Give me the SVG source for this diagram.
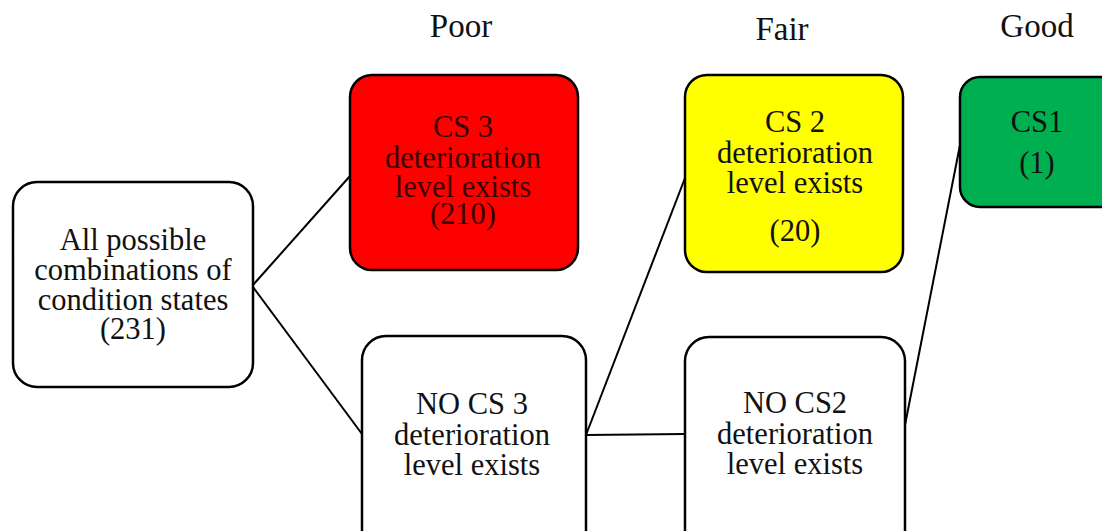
<svg xmlns="http://www.w3.org/2000/svg" width="1102" height="531" viewBox="0 0 1102 531">
<style>
.box{stroke:#000;stroke-width:2.5}
.t{font-family:"Liberation Serif","Times New Roman",serif;font-size:30.5px;text-anchor:middle;fill:#111}
.r{fill:#3a0000}
.h{font-family:"Liberation Serif","Times New Roman",serif;font-size:33px;text-anchor:middle;fill:#111}
.c{stroke:#000;stroke-width:2;fill:none}
</style>
<rect width="1102" height="531" fill="#fff"/>
<g id="headers">
<text class="h" x="461" y="37">Poor</text>
<text class="h" x="782" y="40">Fair</text>
<text class="h" x="1037" y="37">Good</text>
</g>
<g id="connectors">
<line class="c" x1="253" y1="285" x2="350" y2="176"/>
<line class="c" x1="253" y1="287" x2="362" y2="434"/>
<line class="c" x1="586" y1="435" x2="685" y2="178"/>
<line class="c" x1="586" y1="435" x2="685" y2="434"/>
<line class="c" x1="905" y1="425" x2="960" y2="145"/>
</g>
<g id="all">
<rect class="box" x="13" y="182" width="240" height="205" rx="24" fill="#fff"/>
<text class="t" x="133" y="250">All possible</text>
<text class="t" x="133" y="280">combinations of</text>
<text class="t" x="133" y="310">condition states</text>
<text class="t" x="133" y="339">(231)</text>
</g>
<g id="cs3">
<rect class="box" x="350" y="75" width="228" height="195" rx="22" fill="#ff0000"/>
<text class="t r" x="463" y="137">CS 3</text>
<text class="t r" x="463" y="168">deterioration</text>
<text class="t r" x="463" y="197">level exists</text>
<text class="t r" x="463" y="224">(210)</text>
</g>
<g id="cs2">
<rect class="box" x="685" y="75" width="218" height="197" rx="22" fill="#ffff00"/>
<text class="t" x="795" y="132">CS 2</text>
<text class="t" x="795" y="163">deterioration</text>
<text class="t" x="795" y="193">level exists</text>
<text class="t" x="795" y="241">(20)</text>
</g>
<g id="cs1">
<rect class="box" x="960" y="77" width="170" height="130" rx="20" fill="#00b050"/>
<text class="t" x="1037" y="132">CS1</text>
<text class="t" x="1037" y="173">(1)</text>
</g>
<g id="nocs3">
<rect class="box" x="362" y="336" width="224" height="220" rx="24" fill="#fff"/>
<text class="t" x="472" y="414">NO CS 3</text>
<text class="t" x="472" y="445">deterioration</text>
<text class="t" x="472" y="475">level exists</text>
</g>
<g id="nocs2">
<rect class="box" x="685" y="337" width="220" height="220" rx="24" fill="#fff"/>
<text class="t" x="795" y="413">NO CS2</text>
<text class="t" x="795" y="444">deterioration</text>
<text class="t" x="795" y="474">level exists</text>
</g>
</svg>
